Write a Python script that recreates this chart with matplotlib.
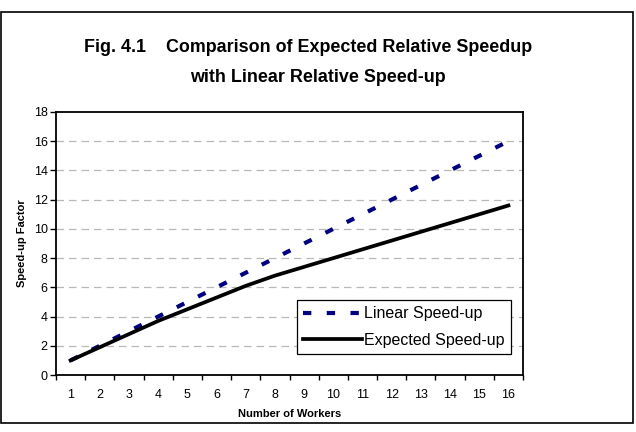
import numpy as np
import matplotlib
matplotlib.use("Agg")
import matplotlib.pyplot as plt
from matplotlib.patches import Rectangle

plt.rcParams['font.family'] = ['Liberation Sans', 'DejaVu Sans']

workers = list(range(1, 17))
linear_speedup = [1, 2, 3, 4, 5, 6, 7, 8, 9, 10, 11, 12, 13, 14, 15, 16]
expected_speedup = [1.0, 1.9, 2.8, 3.7, 4.5, 5.3, 6.1, 6.8, 7.4, 8.0, 8.6, 9.2, 9.8, 10.4, 11.0, 11.6]
y_ticks = list(range(0, 19, 2))

fig = plt.figure(figsize=(6.36, 4.32), dpi=100)
W, H = 636, 432

# outer chart frame
fig.patches.append(Rectangle((1 / W, 9 / H), 632 / W, 411 / H, transform=fig.transFigure,
                             fill=False, edgecolor='black', linewidth=1.2))

fig.text(308 / W, 1 - 47 / H, "Fig. 4.1    Comparison of Expected Relative Speedup",
         ha='center', va='center', fontsize=12.9, fontweight='bold')
fig.text(318 / W, 1 - 77 / H, "with Linear Relative Speed-up",
         ha='center', va='center', fontsize=12.9, fontweight='bold')

ax = fig.add_axes([56 / W, 1 - 375 / H, 467 / W, 263 / H])

ax.plot(workers, linear_speedup, color='#000080', linewidth=3.0, dashes=(2.0, 3.7),
        solid_capstyle='butt', label='Linear Speed-up')
ax.plot(workers, expected_speedup, color='black', linewidth=2.7, label='Expected Speed-up')

ax.set_xlim(0.5, 16.5)
ax.set_ylim(0, 18)
ax.set_yticks(y_ticks)
ax.set_xticks(workers)
ax.set_xticks(np.arange(0.5, 17, 1), minor=True)
ax.tick_params(axis='x', which='major', length=0, labelsize=9, pad=10)
ax.tick_params(axis='x', which='minor', length=3.5, width=1, direction='out')
ax.tick_params(axis='y', length=4, width=1, direction='out', labelsize=9, pad=2)

for y in y_ticks[1:-1]:
    ax.axhline(y, color='#b8b8b8', linewidth=0.9, dashes=(6, 4), zorder=0)

for s in ax.spines.values():
    s.set_linewidth(1.3)
    s.set_color('black')

ax.set_xlabel("Number of Workers", fontsize=8, fontweight='bold', labelpad=6)
ax.set_ylabel("Speed-up Factor", fontsize=8, fontweight='bold', labelpad=5)

leg = ax.legend(loc='lower right', bbox_to_anchor=(0.974, 0.08), fontsize=11.5,
                frameon=True, fancybox=False, framealpha=1, edgecolor='black',
                handlelength=3.7, handletextpad=0.1, borderpad=0.4, labelspacing=0.7,
                borderaxespad=0)
leg.get_frame().set_linewidth(0.9)

fig.savefig("out.png", dpi=100)
